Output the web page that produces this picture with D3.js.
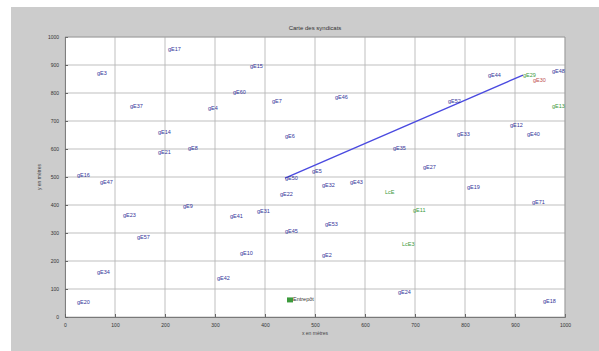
<!DOCTYPE html>
<html>
<head>
<meta charset="utf-8">
<script src="https://cdn.jsdelivr.net/npm/d3@7"></script>
<style>
  html, body { margin: 0; padding: 0; background: #ffffff; }
  svg { display: block; font-family: "Liberation Sans", Arial, sans-serif; }
</style>
</head>
<body>
<svg id="chart" width="599" height="351"></svg>
<script>
// Site labels, positions (metres) and group
const names = ["gE17","gE3","gE15","gE60","gE7","gE37","gE4","gE14","gE21","gE8",
  "gE6","gE16","gE46","gE52","gE44","gE29","gE30","gE48","gE13","gE12",
  "gE33","gE40","gE35","gE27","gE5","gE50","gE32","gE43","gE22","gE31",
  "gE47","gE9","gE23","gE57","gE41","gE10","gE42","gE34","gE20","gE45",
  "gE53","LcE","gE19","gE71","gE11","gE2","LcE3","gE24","gE18","Entrepôt"];
const xs = [206,64,370,336,414,130,286,186,186,246,
  440,24,540,766,846,916,936,974,974,890,
  784,924,656,716,494,440,514,570,430,384,
  70,236,116,144,330,350,304,64,24,440,
  520,640,804,934,696,514,674,666,956,446];
const ys = [954,871,896,800,768,750,743,657,586,600,
  643,504,782,771,861,864,846,875,750,682,
  650,650,600,532,521,496,471,479,436,375,
  479,396,364,282,357,225,136,157,50,304,
  329,443,461,407,379,221,257,86,54,61];
const groups = ["b","b","b","b","b","b","b","b","b","b",
  "b","b","b","b","b","g","r","b","g","b",
  "b","b","b","b","b","b","b","b","b","b",
  "b","b","b","b","b","b","b","b","b","b",
  "b","g","b","b","g","b","g","b","b","k"];

// Route drawn between two sites
const routeFrom = [440, 496];
const routeTo = [916, 864];

const xTicks = [0,100,200,300,400,500,600,700,800,900,1000];
const yTicks = [0,100,200,300,400,500,600,700,800,900,1000];

const titleText = "Carte des syndicats";
const xLabel = "x en mètres";
const yLabel = "y en mètres";

const colorOf = { b: "#34349a", g: "#3c9a3c", r: "#c05050", k: "#333333" };

const svg = d3.select("#chart");
const W = 599, H = 351;
const plot = { left: 65, right: 565, top: 37, bottom: 317 };

// Figure background
svg.append("rect").attr("x", 11).attr("y", 7).attr("width", W - 11).attr("height", H - 7)
  .attr("fill", "#cccccc");

const x = d3.scaleLinear().domain([0, 1000]).range([plot.left, plot.right]);
const y = d3.scaleLinear().domain([0, 1000]).range([plot.bottom, plot.top]);

// Axes area
svg.append("rect").attr("x", plot.left).attr("y", plot.top)
  .attr("width", plot.right - plot.left).attr("height", plot.bottom - plot.top)
  .attr("fill", "#ffffff");

// Grid
const grid = svg.append("g");
grid.selectAll("line.v").data(xTicks).join("line")
  .attr("x1", d => x(d)).attr("x2", d => x(d))
  .attr("y1", plot.top).attr("y2", plot.bottom)
  .attr("stroke", "#b8b8b8").attr("stroke-width", 0.9);
grid.selectAll("line.h").data(yTicks).join("line")
  .attr("x1", plot.left).attr("x2", plot.right)
  .attr("y1", d => y(d)).attr("y2", d => y(d))
  .attr("stroke", "#b8b8b8").attr("stroke-width", 0.9);

// Axes
const xAxis = d3.axisBottom(x).tickValues(xTicks).tickSize(-3).tickPadding(6)
  .tickFormat(d3.format("d"));
const yAxis = d3.axisLeft(y).tickValues(yTicks).tickSize(-3).tickPadding(6)
  .tickFormat(d3.format("d"));

const gx = svg.append("g").attr("transform", `translate(0,${plot.bottom})`).call(xAxis);
const gy = svg.append("g").attr("transform", `translate(${plot.left},0)`).call(yAxis);
[gx, gy].forEach(g => {
  g.select(".domain").attr("stroke", "#666").attr("stroke-width", 0.8);
  g.selectAll(".tick line").attr("stroke", "#666");
  g.selectAll(".tick text").attr("fill", "#333").style("font-size", "5px");
});

// Box top/right
svg.append("line").attr("x1", plot.left).attr("x2", plot.right)
  .attr("y1", plot.top).attr("y2", plot.top).attr("stroke", "#888").attr("stroke-width", 0.6);
svg.append("line").attr("x1", plot.right).attr("x2", plot.right)
  .attr("y1", plot.top).attr("y2", plot.bottom).attr("stroke", "#888").attr("stroke-width", 0.6);

// Title and axis labels
svg.append("text").attr("x", (plot.left + plot.right) / 2).attr("y", 30)
  .attr("text-anchor", "middle").attr("fill", "#333").style("font-size", "6px")
  .text(titleText);
svg.append("text").attr("x", (plot.left + plot.right) / 2).attr("y", 335)
  .attr("text-anchor", "middle").attr("fill", "#444").style("font-size", "5px")
  .text(xLabel);
svg.append("text")
  .attr("transform", `translate(41,${(plot.top + plot.bottom) / 2}) rotate(-90)`)
  .attr("text-anchor", "middle").attr("fill", "#444").style("font-size", "5px")
  .text(yLabel);

// Route
svg.append("line")
  .attr("x1", x(routeFrom[0])).attr("y1", y(routeFrom[1]))
  .attr("x2", x(routeTo[0])).attr("y2", y(routeTo[1]))
  .attr("stroke", "#4a4ae0").attr("stroke-width", 1.4);

// Sites
const sites = names.map((n, i) => ({ name: n, x: xs[i], y: ys[i], g: groups[i] }));
const gs = svg.append("g");
gs.selectAll("rect").data(sites.filter(d => d.g === "k")).join("rect")
  .attr("x", d => x(d.x) - 1).attr("y", d => y(d.y) - 2.5)
  .attr("width", 6).attr("height", 5).attr("fill", "#3c9a3c");
gs.selectAll("text").data(sites).join("text")
  .attr("x", d => x(d.x) + (d.g === "k" ? 5 : 0))
  .attr("y", d => y(d.y))
  .attr("dominant-baseline", "middle")
  .attr("fill", d => colorOf[d.g])
  .style("font-size", "5.5px")
  .text(d => d.name);
</script>
</body>
</html>
